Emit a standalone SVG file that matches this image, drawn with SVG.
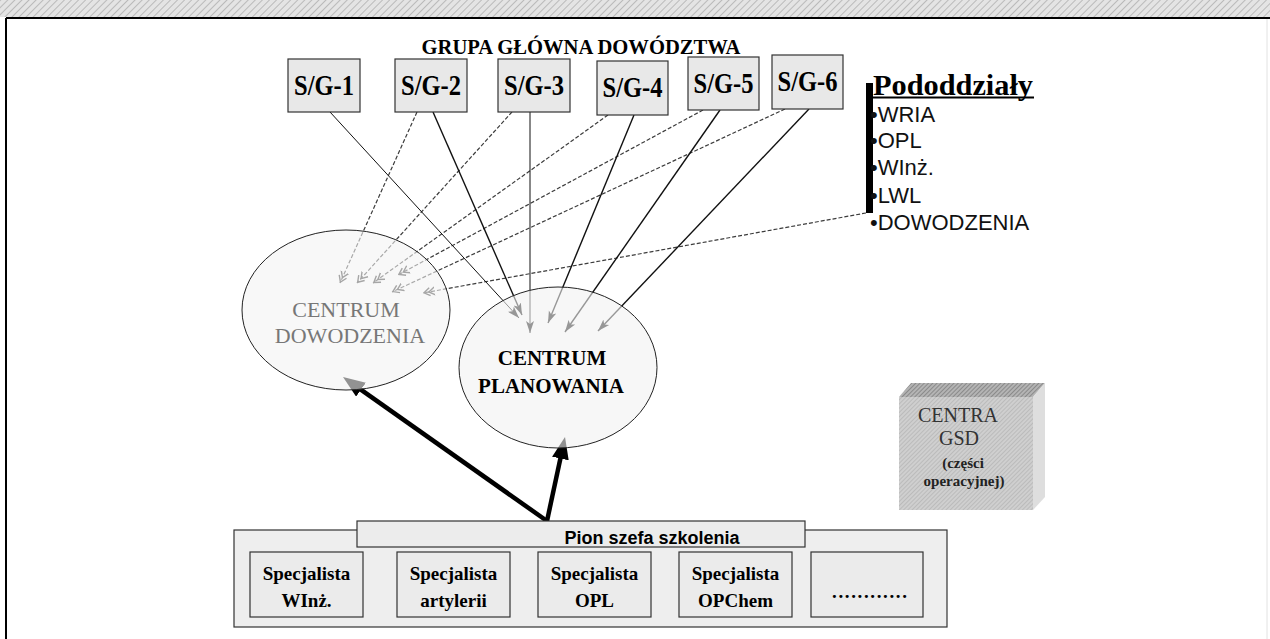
<svg xmlns="http://www.w3.org/2000/svg" width="1270" height="639" viewBox="0 0 1270 639">
  <defs>
    <pattern id="band" width="5" height="5" patternUnits="userSpaceOnUse" patternTransform="rotate(45)">
      <rect width="5" height="5" fill="#e4e4e4"/>
      <line x1="0" y1="0" x2="0" y2="5" stroke="#b0b0b0" stroke-width="1.6"/>
    </pattern>
    <pattern id="topFace" width="3" height="3" patternUnits="userSpaceOnUse" patternTransform="rotate(45)">
      <rect width="3" height="3" fill="#b4b4b4"/>
      <line x1="0" y1="0" x2="0" y2="3" stroke="#6e6e6e" stroke-width="1.2"/>
    </pattern>
    <pattern id="frontFace" width="3" height="3" patternUnits="userSpaceOnUse" patternTransform="rotate(45)">
      <rect width="3" height="3" fill="#cfcfcf"/>
      <line x1="0" y1="0" x2="0" y2="3" stroke="#a8a8a8" stroke-width="1"/>
    </pattern>
    <marker id="tip" markerUnits="userSpaceOnUse" viewBox="0 0 12 10" markerWidth="12" markerHeight="10" refX="12" refY="5" orient="auto">
      <path d="M0,1 L12,5 L0,9 L3,5 z" fill="#111"/>
    </marker>
    <marker id="dbl" markerUnits="userSpaceOnUse" viewBox="0 0 12 10" markerWidth="12" markerHeight="10" refX="12" refY="5" orient="auto">
      <path d="M0,1 L6,5 L0,9 M5,1 L11,5 L5,9" fill="none" stroke="#333" stroke-width="1.4"/>
    </marker>
    <marker id="big" markerUnits="userSpaceOnUse" viewBox="0 0 22 17" markerWidth="22" markerHeight="17" refX="11" refY="8.5" orient="auto">
      <path d="M0,0 L22,8.5 L0,17 z" fill="#000"/>
    </marker>
    <style>
      .serif { font-family: "Liberation Serif", "Times New Roman", serif; }
      .sans { font-family: "Liberation Sans", Arial, sans-serif; }
      .sg rect { fill: #e8e8e8; stroke: #333; stroke-width: 1.2; }
      .sg text { font-family: "Liberation Serif", "Times New Roman", serif; font-weight: bold; font-size: 29px; text-anchor: middle; fill: #000; }
      .dash { fill: none; stroke: #3c3c3c; stroke-width: 1.2; stroke-dasharray: 4 2; marker-end: url(#dbl); }
      .solid { fill: none; stroke: #111; stroke-width: 1.4; marker-end: url(#tip); }
      .thin { stroke-width: 1; }
      .heavy { fill: none; stroke: #000; stroke-width: 4.5; marker-end: url(#big); }
      .spec rect { fill: #ebebeb; stroke: #333; stroke-width: 1.2; }
      .spec text { font-family: "Liberation Serif", "Times New Roman", serif; font-weight: bold; font-size: 19px; text-anchor: middle; }
      .list { font-family: "Liberation Sans", Arial, sans-serif; font-size: 22px; fill: #111; }
    </style>
  </defs>

  <!-- page frame -->
  <rect x="0" y="0" width="1270" height="17" fill="url(#band)"/>
  <line x1="6" y1="18" x2="1270" y2="18" stroke="#000" stroke-width="2"/>
  <line x1="6" y1="18" x2="6" y2="639" stroke="#000" stroke-width="2"/>
  <line x1="1267" y1="19" x2="1267" y2="639" stroke="#e2e2e2" stroke-width="1"/>

  <text class="serif" x="581" y="54" text-anchor="middle" font-weight="bold" font-size="21" textLength="319" lengthAdjust="spacingAndGlyphs">GRUPA GŁÓWNA DOWÓDZTWA</text>

  <!-- connectors -->
  <g id="connectors">
    <!-- towards CENTRUM DOWODZENIA -->
    <line class="dash" x1="417" y1="112" x2="340" y2="283"/>
    <line class="dash" x1="512" y1="112" x2="357" y2="283"/>
    <line class="dash" x1="608" y1="115" x2="373" y2="283"/>
    <line class="dash" x1="703" y1="110" x2="398" y2="275"/>
    <line class="dash" x1="785" y1="109" x2="392" y2="292"/>
    <line class="dash" x1="866" y1="213" x2="423" y2="293" stroke-dasharray="6 5"/>
    <!-- towards CENTRUM PLANOWANIA -->
    <line class="solid thin" x1="330" y1="112" x2="519" y2="318"/>
    <line class="solid" x1="433" y1="112" x2="522" y2="315"/>
    <line class="solid thin" x1="530" y1="112" x2="530" y2="333"/>
    <line class="solid" x1="634" y1="115" x2="548" y2="323"/>
    <line class="solid" x1="720" y1="110" x2="565" y2="332"/>
    <line class="solid" x1="809" y1="109" x2="598" y2="331"/>
    <!-- from Pion szefa szkolenia -->
    <line class="heavy" x1="547" y1="521" x2="352" y2="383.3"/>
    <line class="heavy" x1="547" y1="521" x2="562.7" y2="447.8"/>
  </g>

  <g id="sg1" class="sg"><rect x="288" y="59" width="72" height="53"/><text x="324" y="95" textLength="60" lengthAdjust="spacingAndGlyphs">S/G-1</text></g>
  <g id="sg2" class="sg"><rect x="395" y="59" width="72" height="53"/><text x="431" y="95" textLength="60" lengthAdjust="spacingAndGlyphs">S/G-2</text></g>
  <g id="sg3" class="sg"><rect x="498" y="59" width="72" height="53"/><text x="534" y="95" textLength="60" lengthAdjust="spacingAndGlyphs">S/G-3</text></g>
  <g id="sg4" class="sg"><rect x="597" y="61" width="71" height="54"/><text x="632.5" y="97" textLength="60" lengthAdjust="spacingAndGlyphs">S/G-4</text></g>
  <g id="sg5" class="sg"><rect x="688" y="57" width="71" height="53"/><text x="723.5" y="93" textLength="60" lengthAdjust="spacingAndGlyphs">S/G-5</text></g>
  <g id="sg6" class="sg"><rect x="772" y="55" width="71" height="54"/><text x="807.5" y="91" textLength="60" lengthAdjust="spacingAndGlyphs">S/G-6</text></g>

  <g id="pododdzialy">
    <text class="serif" x="873" y="95" font-weight="bold" font-size="30" textLength="160" lengthAdjust="spacingAndGlyphs">Pododdziały</text>
    <rect x="873" y="96.5" width="161" height="2" fill="#000"/>
    <rect x="866" y="83" width="7" height="130" fill="#000"/>
    <text class="list" x="870" y="122">•WRIA</text>
    <text class="list" x="870" y="148">•OPL</text>
    <text class="list" x="870" y="175">•WInż.</text>
    <text class="list" x="870" y="203">•LWL</text>
    <text class="list" x="870" y="230">•DOWODZENIA</text>
  </g>

  <g id="centrum-dowodzenia">
    <ellipse cx="346" cy="310" rx="104" ry="80" fill="#f4f4f4" fill-opacity="0.6" stroke="#222" stroke-width="1"/>
    <text class="serif" x="346" y="317" text-anchor="middle" font-size="22" fill="#777">CENTRUM</text>
    <text class="serif" x="350" y="343" text-anchor="middle" font-size="22" fill="#777">DOWODZENIA</text>
  </g>

  <g id="centrum-planowania">
    <ellipse cx="558" cy="367.5" rx="99" ry="80.5" fill="#f1f1f1" fill-opacity="0.6" stroke="#222" stroke-width="1"/>
    <text class="serif" x="552" y="365" text-anchor="middle" font-weight="bold" font-size="21">CENTRUM</text>
    <text class="serif" x="551" y="393" text-anchor="middle" font-weight="bold" font-size="21">PLANOWANIA</text>
  </g>

  <g id="centra-gsd">
    <polygon points="899,397 911,383 1045,383 1033,397" fill="url(#topFace)"/>
    <polygon points="1033,397 1045,383 1045,497 1033,510" fill="#dedede"/>
    <rect x="899" y="397" width="134" height="113" fill="url(#frontFace)"/>
    <text class="serif" x="958" y="422" text-anchor="middle" font-size="20" fill="#333">CENTRA</text>
    <text class="serif" x="959" y="445" text-anchor="middle" font-size="20" fill="#333">GSD</text>
    <text class="serif" x="963" y="468" text-anchor="middle" font-weight="bold" font-size="15" fill="#222">(części</text>
    <text class="serif" x="964" y="486" text-anchor="middle" font-weight="bold" font-size="15" fill="#222">operacyjnej)</text>
  </g>

  <g id="pion-szefa-szkolenia">
    <rect x="234" y="530" width="713" height="97" fill="#eeeeee" stroke="#333" stroke-width="1.2"/>
    <rect x="357" y="521" width="448" height="26" fill="#ececec" stroke="#333" stroke-width="1.2"/>
    <text class="sans" x="652" y="544" text-anchor="middle" font-weight="bold" font-size="18">Pion szefa szkolenia</text>
  </g>

  <g id="spec-winz" class="spec"><rect x="250" y="552" width="113" height="65"/><text x="306.5" y="580">Specjalista</text><text x="306.5" y="607">WInż.</text></g>
  <g id="spec-artylerii" class="spec"><rect x="397" y="552" width="113" height="65"/><text x="453.5" y="580">Specjalista</text><text x="453.5" y="607">artylerii</text></g>
  <g id="spec-opl" class="spec"><rect x="538" y="552" width="113" height="65"/><text x="594.5" y="580">Specjalista</text><text x="594.5" y="607">OPL</text></g>
  <g id="spec-opchem" class="spec"><rect x="679" y="552" width="113" height="65"/><text x="735.5" y="580">Specjalista</text><text x="735.5" y="607">OPChem</text></g>
  <g id="spec-more" class="spec"><rect x="811" y="552" width="112" height="65"/><text x="869.5" y="598" textLength="75">............</text></g>
</svg>
